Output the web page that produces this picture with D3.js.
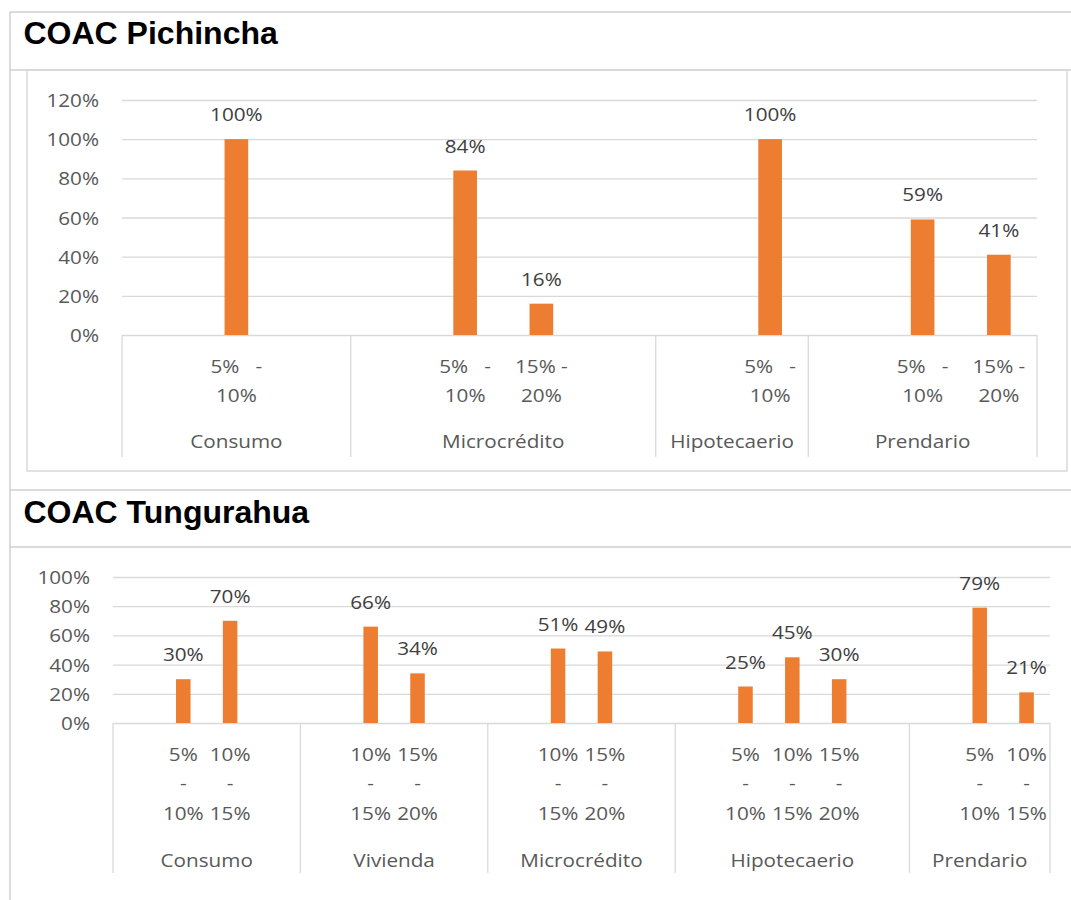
<!DOCTYPE html>
<html><head><meta charset="utf-8">
<script src="https://cdn.jsdelivr.net/npm/d3@7"></script>
<style>
html,body{margin:0;padding:0;background:#fff;}
svg{display:block;}
text{font-family:"Open Sans",sans-serif;}
</style></head><body>
<svg id="chart" width="1071" height="900"></svg>
<script>
// ---------- data ----------
const titles = ["COAC Pichincha", "COAC Tungurahua"];

const pichinchaGroups = ["Consumo", "Microcrédito", "Hipotecaerio", "Prendario"];
const pichinchaRanges = [
  ["", "5%   - 10%", ""],
  ["", "5%   - 10%", "15% - 20%", ""],
  ["", "5%   - 10%"],
  ["", "5%   - 10%", "15% - 20%"]
];
const pichinchaValues = [
  [null, 1.00, null],
  [null, 0.84, 0.16, null],
  [null, 1.00],
  [null, 0.59, 0.41]
];
const pichinchaTicks = [0, 0.2, 0.4, 0.6, 0.8, 1.0, 1.2];

const tungurahuaGroups = ["Consumo", "Vivienda", "Microcrédito", "Hipotecaerio", "Prendario"];
const tungurahuaRanges = [
  ["", "5% - 10%", "10% - 15%", ""],
  ["", "10% - 15%", "15% - 20%", ""],
  ["", "10% - 15%", "15% - 20%", ""],
  ["", "5% - 10%", "10% - 15%", "15% - 20%", ""],
  ["", "5% - 10%", "10% - 15%"]
];
const tungurahuaValues = [
  [null, 0.30, 0.70, null],
  [null, 0.66, 0.34, null],
  [null, 0.51, 0.49, null],
  [null, 0.25, 0.45, 0.30, null],
  [null, 0.79, 0.21]
];
const tungurahuaTicks = [0, 0.2, 0.4, 0.6, 0.8, 1.0];

// ---------- drawing ----------
const svg = d3.select("#chart");
const SX = 1.15;
const FS = 18;
const pct = d3.format(".0%");
const BORDER = "#cfcfcf";
const GRID = "#d9d9d9";
const BAR = "#ED7D31";

function line(x1, y1, x2, y2, color, w) {
  svg.append("line").attr("x1", x1).attr("y1", y1).attr("x2", x2).attr("y2", y2)
    .attr("stroke", color).attr("stroke-width", w);
}

// table / frame lines
line(10, 12, 1071, 12, BORDER, 1.5);
line(10, 12, 10, 900, BORDER, 1.5);
line(10, 70, 1071, 70, BORDER, 1.5);
line(10, 490, 1071, 490, BORDER, 1.5);
line(10, 547, 1071, 547, BORDER, 1.5);
svg.append("rect").attr("x", 27).attr("y", 70).attr("width", 1040).attr("height", 401)
  .attr("fill", "none").attr("stroke", GRID).attr("stroke-width", 1.5);

// titles
svg.append("text").attr("x", 23.5).attr("y", 44).text(titles[0])
  .style("font-family", '"Liberation Sans", Arial, sans-serif').style("font-weight", "bold")
  .style("font-size", "32px").attr("fill", "#000");
svg.append("text").attr("x", 23.5).attr("y", 523).text(titles[1])
  .style("font-family", '"Liberation Sans", Arial, sans-serif').style("font-weight", "bold")
  .style("font-size", "32px").attr("fill", "#000");

function stretchedText(g, cx, by, lines, lh, color) {
  const t = g.append("text")
    .attr("transform", `translate(${cx},${by}) scale(${SX},1)`)
    .attr("text-anchor", "middle")
    .attr("xml:space", "preserve")
    .style("white-space", "pre")
    .style("font-size", FS + "px")
    .attr("fill", color);
  lines.forEach((s, i) => {
    t.append("tspan").attr("x", 0).attr("dy", i === 0 ? 0 : lh).text(s);
  });
  return t;
}

function drawChart(cfg) {
  const g = svg.append("g");
  const leaves = cfg.groups.flatMap((grp, gi) =>
    cfg.ranges[gi].map((r, ri) => ({ key: gi + "-" + ri, gi, label: r, value: cfg.values[gi][ri] })));

  const x = d3.scaleBand().domain(leaves.map(d => d.key))
    .range([cfg.x0, cfg.x1]).paddingInner(0.69).paddingOuter(0.345);
  const y = d3.scaleLinear().domain([0, cfg.yMax]).range([cfg.y0, cfg.yTop]);
  const half = x.step() * x.paddingInner() / 2;

  // gridlines + y labels
  const ax = g.append("g").attr("transform", `translate(${cfg.x0},0)`)
    .call(d3.axisLeft(y).tickValues(cfg.ticks).tickFormat(pct).tickSize(-(cfg.x1 - cfg.x0)));
  ax.select(".domain").remove();
  ax.selectAll(".tick line").attr("stroke", GRID).attr("stroke-width", 1.3);
  ax.selectAll(".tick text")
    .attr("x", null).attr("dy", null)
    .attr("transform", `translate(${cfg.yLabelRight - cfg.x0},6.5) scale(${SX},1)`)
    .attr("text-anchor", "end")
    .attr("fill", "#595959")
    .style("font-size", FS + "px")
    .style("font-family", '"Open Sans", sans-serif');

  // group separators
  const bounds = [];
  cfg.groups.forEach((grp, gi) => {
    const ls = leaves.filter(d => d.gi === gi);
    const left = x(ls[0].key) - half;
    const right = x(ls[ls.length - 1].key) + x.bandwidth() + half;
    bounds.push({ grp, left, right });
  });
  const sepX = [bounds[0].left].concat(bounds.map(b => b.right));
  sepX.forEach(sx => line(sx, cfg.y0, sx, cfg.sepBottom, GRID, 1.3));

  // bars
  const withVal = leaves.filter(d => d.value !== null);
  g.selectAll("rect.bar").data(withVal).enter().append("rect")
    .attr("class", "bar")
    .attr("x", d => x(d.key))
    .attr("width", x.bandwidth())
    .attr("y", d => y(d.value))
    .attr("height", d => y(0) - y(d.value))
    .attr("fill", BAR);

  // data labels
  withVal.forEach(d => {
    stretchedText(g, x(d.key) + x.bandwidth() / 2, y(d.value) - 18, [pct(d.value)], 0, "#404040");
  });

  // leaf labels
  leaves.filter(d => d.label !== "").forEach(d => {
    let lines;
    if (cfg.wrap === 2) {
      const idx = d.label.indexOf("-");
      lines = [d.label.slice(0, idx + 1), d.label.slice(idx + 1).trim()];
    } else {
      const p = d.label.split("-").map(s => s.trim());
      lines = [p[0], "-", p[1]];
    }
    stretchedText(g, x(d.key) + x.bandwidth() / 2, cfg.leafBase, lines, cfg.lh, "#595959");
  });

  // group labels
  bounds.forEach(b => {
    stretchedText(g, (b.left + b.right) / 2, cfg.groupBase, [b.grp], 0, "#595959");
  });
}

drawChart({
  groups: pichinchaGroups, ranges: pichinchaRanges, values: pichinchaValues, ticks: pichinchaTicks,
  x0: 122, x1: 1037, y0: 335, yTop: 100, yMax: 1.2, yLabelRight: 99,
  sepBottom: 457, leafBase: 373, lh: 29, groupBase: 448, wrap: 2
});

drawChart({
  groups: tungurahuaGroups, ranges: tungurahuaRanges, values: tungurahuaValues, ticks: tungurahuaTicks,
  x0: 113, x1: 1050, y0: 723, yTop: 577, yMax: 1.0, yLabelRight: 90,
  sepBottom: 873, leafBase: 761, lh: 29.5, groupBase: 867, wrap: 3
});
</script>
</body></html>
